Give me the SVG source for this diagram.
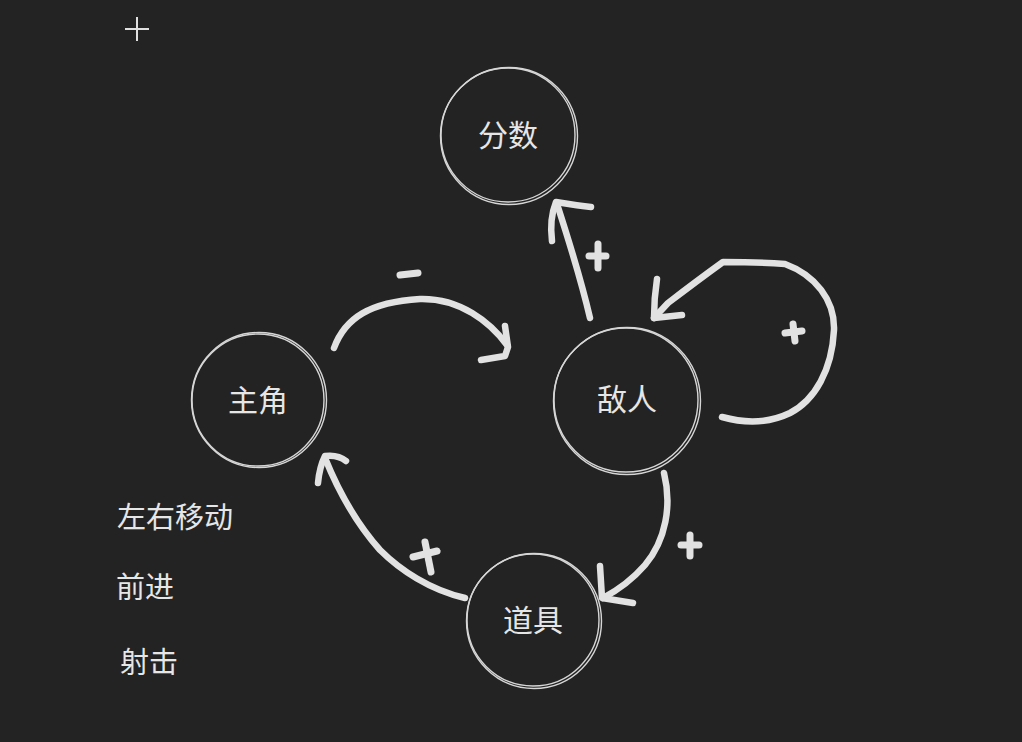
<svg xmlns="http://www.w3.org/2000/svg" width="1022" height="742" viewBox="0 0 1022 742">
<defs>
<style>
.ring{fill:none;stroke:#d6d6d6;stroke-width:1.4}
.lbl{font-family:"Noto Sans CJK SC","Noto Sans",sans-serif;font-size:29px;fill:#e6e6e6}
.node-lbl{text-anchor:middle;dominant-baseline:central;font-size:30px}
.stroke{fill:none;stroke:#e2e2e2;stroke-width:6.5;stroke-linecap:round;stroke-linejoin:round}
.mark{fill:none;stroke:#e2e2e2;stroke-width:7;stroke-linecap:round}
</style>
</defs>
<rect width="1022" height="742" fill="#232323"/>
<g id="cursor" stroke="#e0e0e0" stroke-width="2">
<line x1="125" y1="29" x2="149" y2="29"/>
<line x1="137" y1="17" x2="137" y2="41"/>
</g>
<g id="node-score">
<circle class="ring" cx="508" cy="135" r="67"/>
<circle class="ring" cx="509" cy="136" r="68.5"/>
<text class="lbl node-lbl" x="508" y="133">分数</text>
</g>
<g id="node-player">
<circle class="ring" cx="258" cy="400" r="66"/>
<circle class="ring" cx="259" cy="400" r="67.5"/>
<text class="lbl node-lbl" x="258" y="398">主角</text>
</g>
<g id="node-enemy">
<circle class="ring" cx="626" cy="400" r="72"/>
<circle class="ring" cx="627" cy="401" r="73.5"/>
<text class="lbl node-lbl" x="627" y="397">敌人</text>
</g>
<g id="node-item">
<circle class="ring" cx="533" cy="620" r="66"/>
<circle class="ring" cx="534" cy="621" r="67.5"/>
<text class="lbl node-lbl" x="533" y="618">道具</text>
</g>
<g id="connectors">
<path class="stroke" d="M334,348 C345,318 370,302 420,299 C460,298 490,322 507,345"/>
<path class="stroke" d="M505,326 L508,347 L505,356 L481,360"/>
<line class="mark" x1="400" y1="275" x2="418" y2="273"/>
<path class="stroke" d="M590,318 C580,275 568,238 557,204"/>
<path class="stroke" d="M552,241 C550,225 552,212 556,202 C568,204 580,206 591,207"/>
<line class="mark" x1="589" y1="256" x2="606" y2="256"/>
<line class="mark" x1="598" y1="244" x2="598" y2="268"/>
<path class="stroke" d="M722,417 C740,422 765,425 790,413 C815,400 832,370 834,330 C835,300 815,275 785,264 C760,262 740,262 723,262 C705,275 685,290 668,303 L654,318"/>
<path class="stroke" d="M657,279 C655,292 654,305 654,318 L682,315"/>
<line class="mark" x1="785" y1="333" x2="802" y2="331"/>
<line class="mark" x1="793" y1="324" x2="795" y2="341"/>
<path class="stroke" d="M664,473 C672,505 666,540 645,565 C632,580 618,590 603,598"/>
<path class="stroke" d="M600,566 L602,598 L633,603"/>
<line class="mark" x1="681" y1="545" x2="699" y2="545"/>
<line class="mark" x1="690" y1="535" x2="690" y2="556"/>
<path class="stroke" d="M465,598 C430,590 400,570 380,550 C355,522 338,490 325,458"/>
<path class="stroke" d="M318,483 C319,472 321,464 325,456 C333,455 340,456 346,461"/>
<line class="mark" x1="413" y1="557" x2="437" y2="551"/>
<line class="mark" x1="425" y1="542" x2="431" y2="572"/>
</g>
<g id="notes">
<text class="lbl" x="117" y="528">左右移动</text>
<text class="lbl" x="116" y="598">前进</text>
<text class="lbl" x="120" y="673">射击</text>
</g>
</svg>
